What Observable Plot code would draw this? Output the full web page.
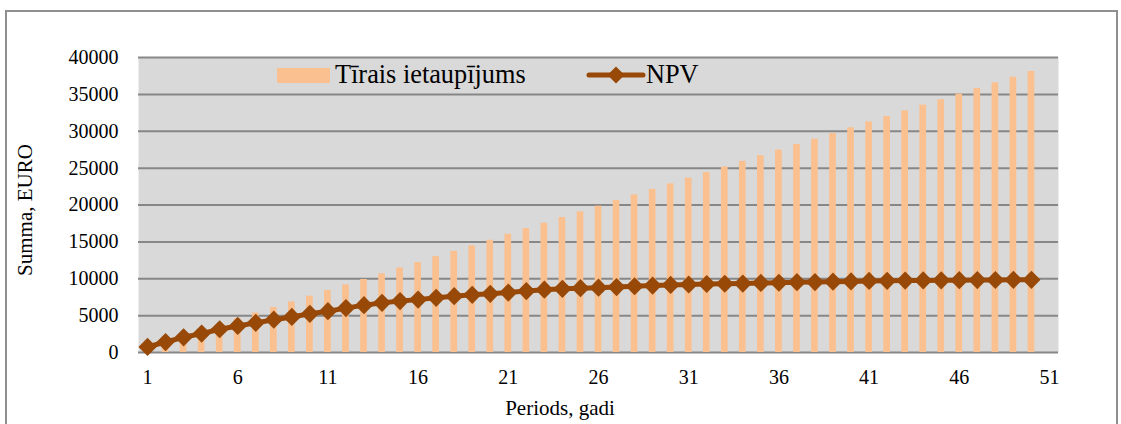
<!DOCTYPE html>
<html>
<head>
<meta charset="utf-8">
<script src="https://cdn.jsdelivr.net/npm/d3@7"></script>
<script src="https://cdn.jsdelivr.net/npm/@observablehq/plot@0.6"></script>
<style>
  html, body { margin: 0; padding: 0; background: #fff; }
  #wrap { position: relative; width: 1121px; height: 424px; overflow: hidden; }
  #border { position: absolute; left: 5px; top: 10px; width: 1113px; height: 500px; border: 2px solid #8f8f8f; box-sizing: border-box; }
  #wrap svg.plot { position: absolute; left: 0; top: 0; }
  #wrap svg.plot text { font-family: 'Liberation Serif', 'Times New Roman', serif; font-variant-numeric: normal; }
</style>
</head>
<body>
<div id="wrap"><div id="border"></div></div>
<script>
// Categories (periods, years) — the axis has 51 categories, data for 1..50
const periods = [1,2,3,4,5,6,7,8,9,10,11,12,13,14,15,16,17,18,19,20,21,22,23,24,25,26,27,28,29,30,31,32,33,34,35,36,37,38,39,40,41,42,43,44,45,46,47,48,49,50,51];
// Tīrais ietaupījums (bars), EURO
const savings = [760,1530,2290,3050,3820,4580,5350,6100,6860,7640,8410,9170,9900,10670,11470,12200,13000,13720,14460,15230,16030,16800,17540,18300,19070,19840,20600,21370,22120,22870,23640,24400,25160,25920,26690,27450,28200,28930,29700,30470,31270,32000,32770,33540,34270,35030,35800,36570,37330,38100];
// NPV (line with diamond markers), EURO
const npv = [760,1420,2060,2560,3150,3600,4020,4450,4820,5250,5600,6020,6420,6730,6970,7170,7420,7640,7820,7960,8120,8330,8520,8630,8720,8790,8870,8980,9070,9160,9220,9290,9320,9350,9430,9460,9530,9550,9610,9640,9700,9720,9750,9770,9790,9800,9820,9830,9850,9860];
// Tick labels
const xTicks = [1,6,11,16,21,26,31,36,41,46,51];
const yTicks = [0,5000,10000,15000,20000,25000,30000,35000,40000];
// Texts
const seriesNames = ["Tīrais ietaupījums", "NPV"];
const xTitle = "Periods, gadi";
const yTitle = "Summa, EURO";

const barColor = "#fac090";
const lineColor = "#984807";
const font = "'Liberation Serif', 'Times New Roman', serif";

const data = savings.map((v, i) => ({period: periods[i], savings: v, npv: npv[i]}));

const chart = Plot.plot({
  width: 1121,
  height: 424,
  marginLeft: 138,
  marginRight: 63,
  marginTop: 57,
  marginBottom: 72,
  style: {fontFamily: font, fontSize: "20px", background: "transparent", color: "#000", overflow: "visible"},
  x: {type: "band", domain: periods, paddingInner: 0.63, paddingOuter: 0.315, round: false,
      ticks: xTicks, tickSize: 0, tickPadding: 17, label: null},
  y: {domain: [0, 40000], ticks: yTicks, tickSize: 0, tickPadding: 20, label: null,
      tickFormat: d => String(d)},
  marks: [
    Plot.frame({fill: "#d9d9d9", stroke: "none"}),
    Plot.ruleY(yTicks, {stroke: "#878787", strokeWidth: 2}),
    Plot.barY(data, {x: "period", y: "savings", fill: barColor}),
    Plot.line(data, {x: "period", y: "npv", stroke: lineColor, strokeWidth: 5}),
    Plot.dot(data, {x: "period", y: "npv", symbol: "diamond2", r: 8.2, fill: lineColor, stroke: "none"})
  ]
});
chart.classList.add("plot");
document.getElementById("wrap").appendChild(chart);

// Legend and axis titles as real SVG text
const svg = d3.select(chart);
const g = svg.append("g").attr("font-family", font).attr("fill", "#000").attr("text-anchor", "start");
// legend: savings swatch
g.append("rect").attr("x", 277).attr("y", 68).attr("width", 53).attr("height", 15).attr("fill", barColor);
g.append("text").attr("x", 335).attr("y", 83).attr("text-anchor", "start").attr("font-size", "26.3px").text(seriesNames[0]);
// legend: NPV line + diamond
g.append("line").attr("x1", 589).attr("x2", 643).attr("y1", 75).attr("y2", 75)
  .attr("stroke", lineColor).attr("stroke-width", 5).attr("stroke-linecap", "round");
g.append("path").attr("d", "M616,66.5L624.5,75L616,83.5L607.5,75Z").attr("fill", lineColor);
g.append("text").attr("x", 646).attr("y", 83).attr("text-anchor", "start").attr("font-size", "26.3px").text(seriesNames[1]);
// axis titles
g.append("text").attr("x", 560).attr("y", 415).attr("text-anchor", "middle").attr("font-size", "21px").text(xTitle);
g.append("text").attr("transform", "translate(32,210) rotate(-90)").attr("text-anchor", "middle").attr("font-size", "21px").text(yTitle);
</script>
</body>
</html>
